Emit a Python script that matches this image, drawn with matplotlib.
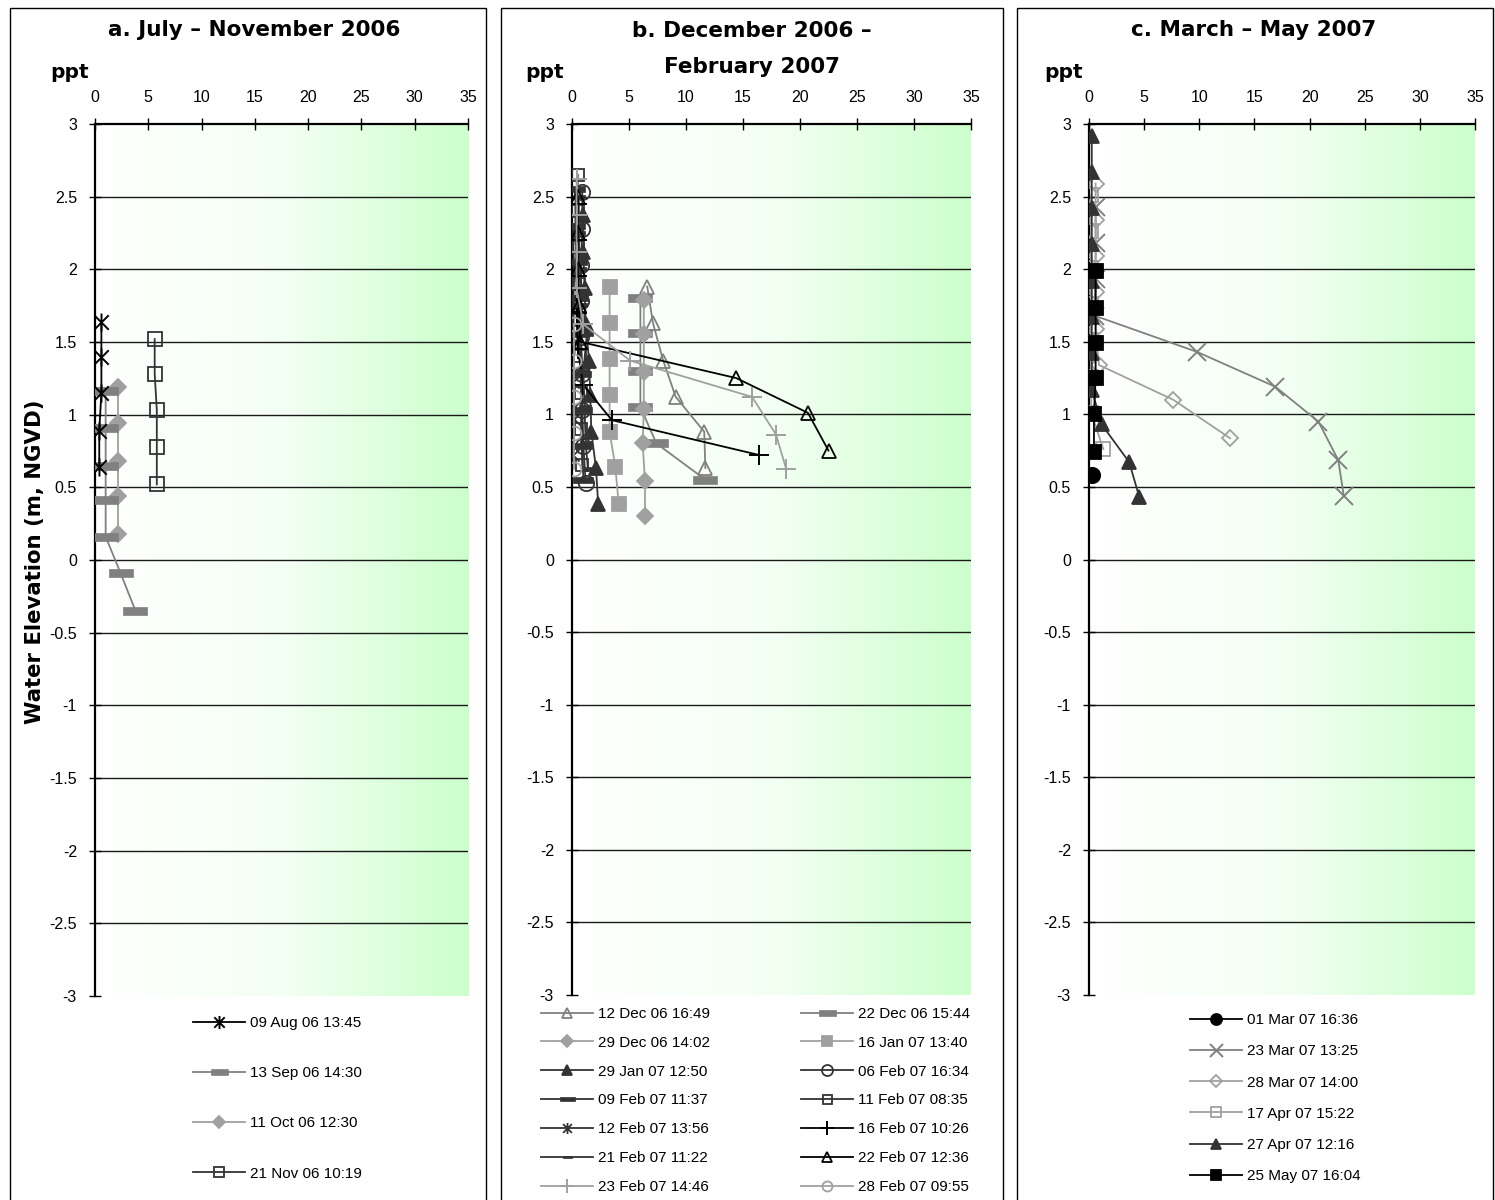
import numpy as np
import matplotlib
matplotlib.use('Agg')
import matplotlib.pyplot as plt
from matplotlib.path import Path
from matplotlib.patches import Rectangle
from matplotlib.colors import LinearSegmentedColormap

# ---------------- data ----------------
x_ticks = [0, 5, 10, 15, 20, 25, 30, 35]
y_ticks = [3, 2.5, 2, 1.5, 1, 0.5, 0, -0.5, -1, -1.5, -2, -2.5, -3]
y_tick_labels = ['3', '2.5', '2', '1.5', '1', '0.5', '0', '-0.5', '-1', '-1.5', '-2', '-2.5', '-3']

titles = ['a. July \u2013 November 2006', 'b. December 2006 \u2013\nFebruary 2007', 'c. March \u2013 May 2007']

# Panel a
a_labels = ['09 Aug 06 13:45', '13 Sep 06 14:30', '11 Oct 06 12:30', '21 Nov 06 10:19']
a_aug_ppt = [0.6, 0.6, 0.6, 0.4, 0.4]
a_aug_elev = [1.64, 1.40, 1.15, 0.89, 0.64]
a_sep_ppt = [1.0, 1.0, 1.0, 1.0, 1.0, 2.4, 3.8]
a_sep_elev = [1.16, 0.91, 0.65, 0.41, 0.16, -0.09, -0.35]
a_oct_ppt = [2.2, 2.2, 2.2, 2.2, 2.2]
a_oct_elev = [1.19, 0.94, 0.68, 0.44, 0.18]
a_nov_ppt = [5.6, 5.6, 5.8, 5.8, 5.8]
a_nov_elev = [1.52, 1.28, 1.03, 0.78, 0.52]

# Panel b
b_labels = ['12 Dec 06 16:49', '22 Dec 06 15:44', '29 Dec 06 14:02', '16 Jan 07 13:40',
            '29 Jan 07 12:50', '06 Feb 07 16:34', '09 Feb 07 11:37', '11 Feb 07 08:35',
            '12 Feb 07 13:56', '16 Feb 07 10:26', '21 Feb 07 11:22', '22 Feb 07 12:36',
            '23 Feb 07 14:46', '28 Feb 07 09:55']
b_12dec_ppt = [6.6, 7.1, 8.0, 9.1, 11.6, 11.7]
b_12dec_elev = [1.88, 1.63, 1.37, 1.12, 0.88, 0.63]
b_22dec_ppt = [6.0, 6.0, 6.0, 6.0, 7.4, 11.7]
b_22dec_elev = [1.80, 1.56, 1.30, 1.05, 0.80, 0.55]
b_29dec_ppt = [6.3, 6.3, 6.3, 6.3, 6.2, 6.4, 6.4]
b_29dec_elev = [1.79, 1.55, 1.29, 1.04, 0.80, 0.54, 0.30]
b_16jan_ppt = [3.3, 3.3, 3.3, 3.3, 3.3, 3.8, 4.1]
b_16jan_elev = [1.88, 1.63, 1.38, 1.13, 0.88, 0.64, 0.38]
b_29jan_ppt = [1.0, 1.0, 1.1, 1.2, 1.5, 1.6, 1.7, 2.1, 2.3]
b_29jan_elev = [2.37, 2.12, 1.87, 1.62, 1.37, 1.13, 0.88, 0.63, 0.38]
b_06feb_ppt = [0.9, 0.9, 0.8, 0.8, 0.8, 0.9, 0.9, 1.0, 1.2]
b_06feb_elev = [2.53, 2.28, 2.03, 1.78, 1.53, 1.28, 1.03, 0.78, 0.53]
b_09feb_ppt = [0.3, 0.3, 0.4, 0.5, 0.6, 0.8, 0.9, 0.9, 1.0]
b_09feb_elev = [2.55, 2.30, 2.05, 1.80, 1.55, 1.28, 1.03, 0.78, 0.55]
b_11feb_ppt = [0.5, 0.5, 0.5, 0.6, 0.6, 0.7, 0.8, 0.8, 0.9]
b_11feb_elev = [2.65, 2.40, 2.15, 1.90, 1.65, 1.40, 1.15, 0.90, 0.65]
b_12feb_ppt = [0.1, 0.2, 0.1, 0.2, 0.1, 0.2, 0.1]
b_12feb_elev = [2.22, 1.97, 1.72, 1.47, 1.22, 0.97, 0.72]
b_16feb_ppt = [0.4, 0.4, 0.4, 0.4, 0.5, 1.0, 3.5, 16.4]
b_16feb_elev = [2.45, 2.20, 1.95, 1.70, 1.45, 1.20, 0.96, 0.72]
b_21feb_ppt = [0.6, 0.6, 0.7, 0.8, 1.3, 1.0, 1.1, 1.2, 1.4]
b_21feb_elev = [2.50, 2.25, 2.00, 1.75, 1.55, 1.30, 1.05, 0.80, 0.62]
b_22feb_ppt = [0.5, 0.5, 0.5, 0.6, 0.7, 14.4, 20.7, 22.5]
b_22feb_elev = [2.50, 2.25, 2.00, 1.75, 1.50, 1.25, 1.01, 0.75]
b_23feb_ppt = [0.4, 0.4, 0.4, 0.4, 1.0, 5.1, 15.8, 17.9, 18.8]
b_23feb_elev = [2.62, 2.37, 2.12, 1.87, 1.62, 1.37, 1.12, 0.86, 0.62]
b_28feb_ppt = [0.2, 0.2, 0.2, 0.2, 0.2]
b_28feb_elev = [1.62, 1.37, 1.12, 0.87, 0.62]

# Panel c
c_labels = ['01 Mar 07 16:36', '23 Mar 07 13:25', '28 Mar 07 14:00',
            '17 Apr 07 15:22', '27 Apr 07 12:16', '25 May 07 16:04']
c_01mar_ppt = [0.25]
c_01mar_elev = [0.58]
c_23mar_ppt = [0.6, 0.6, 0.6, 0.5, 9.8, 16.9, 20.8, 22.6, 23.1]
c_23mar_elev = [2.43, 2.18, 1.93, 1.68, 1.43, 1.19, 0.95, 0.685, 0.44]
c_28mar_ppt = [0.6, 0.6, 0.6, 0.6, 0.6, 0.9, 7.65, 12.8]
c_28mar_elev = [2.59, 2.34, 2.09, 1.84, 1.59, 1.34, 1.10, 0.835]
c_17apr_ppt = [0.2, 0.2, 0.2, 0.2, 0.2, 0.2, 0.2, 1.3]
c_17apr_elev = [2.51, 2.26, 2.01, 1.76, 1.51, 1.26, 1.01, 0.76]
c_27apr_ppt = [0.25, 0.25, 0.25, 0.25, 0.25, 0.25, 0.25, 0.25, 1.15, 3.65, 4.56]
c_27apr_elev = [2.92, 2.67, 2.42, 2.17, 1.92, 1.67, 1.42, 1.17, 0.93, 0.67, 0.43]
c_25may_ppt = [0.6, 0.6, 0.6, 0.6, 0.45, 0.45]
c_25may_elev = [1.99, 1.73, 1.49, 1.25, 1.00, 0.74]

# ---------------- styles ----------------
BLACK, DARK, MID, LIGHT = '#000000', '#333333', '#808080', '#a0a0a0'

ASTER = Path([(-1, -1), (1, 1), (-1, 1), (1, -1), (0, -1.25), (0, 1.25)],
             [Path.MOVETO, Path.LINETO, Path.MOVETO, Path.LINETO, Path.MOVETO, Path.LINETO])
DASH = Path([(-1, -0.3), (1, -0.3), (1, 0.3), (-1, 0.3), (-1, -0.3)],
            [Path.MOVETO, Path.LINETO, Path.LINETO, Path.LINETO, Path.CLOSEPOLY])


def st(color, marker, ms, filled, mew=1.3):
    d = dict(color=color, marker=marker, markersize=ms, markeredgecolor=color,
             markeredgewidth=mew, lw=1.3)
    d['markerfacecolor'] = color if filled else 'none'
    return d


plt.rcParams['font.family'] = ['Liberation Sans', 'DejaVu Sans']

W, H, DPI = 1495, 1200, 100
fig = plt.figure(figsize=(W / DPI, H / DPI), dpi=DPI)

# panel frames
for (x0, x1) in [(10, 486), (501, 1003), (1017, 1493)]:
    fig.patches.append(Rectangle((x0 / W, -0.02), (x1 - x0) / W, (1200 - 8) / H + 0.02,
                                 transform=fig.transFigure, fill=False,
                                 edgecolor='black', lw=1.0))

cmap = LinearSegmentedColormap.from_list('g', ['#ffffff', '#f4fff4', '#ccffcc'])


def make_ax(left, right, top=124, bottom=996):
    ax = fig.add_axes([left / W, (H - bottom) / H, (right - left) / W, (bottom - top) / H])
    grad = np.linspace(0, 1, 256).reshape(1, -1)
    ax.imshow(grad, extent=(0, 35, -3, 3), aspect='auto', cmap=cmap, zorder=0)
    ax.set_xlim(0, 35)
    ax.set_ylim(-3, 3)
    for yv in y_ticks[1:-1]:
        ax.axhline(yv, color='#1a1a1a', lw=1.0, zorder=1)
    ax.spines['right'].set_visible(False)
    ax.spines['bottom'].set_visible(False)
    ax.spines['top'].set_linewidth(1.6)
    ax.spines['left'].set_linewidth(1.6)
    ax.xaxis.tick_top()
    ax.set_xticks(x_ticks)
    ax.set_xticklabels([str(v) for v in x_ticks])
    ax.set_yticks(y_ticks)
    ax.set_yticklabels(y_tick_labels)
    ax.tick_params(axis='x', direction='inout', length=8, width=1, top=True, bottom=False,
                   labeltop=True, labelbottom=False, labelsize=11.5, pad=10)
    ax.tick_params(axis='y', direction='inout', length=8, width=1, labelsize=11.5, pad=9)
    return ax


axa = make_ax(95, 468)
axb = make_ax(572, 971, bottom=995)
axc = make_ax(1089, 1475, bottom=995)

# panel a
la = [
    axa.plot(a_aug_ppt, a_aug_elev, **st(BLACK, ASTER, 13, False, 1.4), zorder=5)[0],
    axa.plot(a_sep_ppt, a_sep_elev, **st(MID, DASH, 17, True, 0.5), zorder=4)[0],
    axa.plot(a_oct_ppt, a_oct_elev, **st(LIGHT, 'D', 8, True), zorder=3)[0],
    axa.plot(a_nov_ppt, a_nov_elev, **st(DARK, 's', 10, False), zorder=3)[0],
]

# panel b
b_series = [
    (b_12dec_ppt, b_12dec_elev, st(MID, '^', 10, False)),
    (b_22dec_ppt, b_22dec_elev, st(MID, DASH, 17, True, 0.5)),
    (b_29dec_ppt, b_29dec_elev, st(LIGHT, 'D', 8, True)),
    (b_16jan_ppt, b_16jan_elev, st(LIGHT, 's', 10, True)),
    (b_29jan_ppt, b_29jan_elev, st(DARK, '^', 10, True)),
    (b_06feb_ppt, b_06feb_elev, st(DARK, 'o', 11, False)),
    (b_09feb_ppt, b_09feb_elev, st(DARK, DASH, 15, True, 0.5)),
    (b_11feb_ppt, b_11feb_elev, st(DARK, 's', 9, False)),
    (b_12feb_ppt, b_12feb_elev, st(DARK, ASTER, 11, False)),
    (b_16feb_ppt, b_16feb_elev, st(BLACK, '+', 14, False, 1.4)),
    (b_21feb_ppt, b_21feb_elev, st(DARK, DASH, 9, True, 0.5)),
    (b_22feb_ppt, b_22feb_elev, st(BLACK, '^', 10, False)),
    (b_23feb_ppt, b_23feb_elev, st(LIGHT, '+', 14, False, 1.4)),
    (b_28feb_ppt, b_28feb_elev, st(LIGHT, 'o', 10, False)),
]
lb = []
for i, (xs, ys, s) in enumerate(b_series):
    lb.append(axb.plot(xs, ys, zorder=3 + i * 0.01, **s)[0])

# panel c
c_series = [
    (c_01mar_ppt, c_01mar_elev, st(BLACK, 'o', 11, True)),
    (c_23mar_ppt, c_23mar_elev, st(MID, 'x', 13, False, 1.4)),
    (c_28mar_ppt, c_28mar_elev, st(LIGHT, 'D', 8, False)),
    (c_17apr_ppt, c_17apr_elev, st(LIGHT, 's', 10, False)),
    (c_27apr_ppt, c_27apr_elev, st(DARK, '^', 10, True)),
    (c_25may_ppt, c_25may_elev, st(BLACK, 's', 10, True)),
]
lc = []
for i, (xs, ys, s) in enumerate(c_series):
    lc.append(axc.plot(xs, ys, zorder=3 + i * 0.01, **s)[0])

# titles and labels
tfont = dict(family='DejaVu Sans', fontweight='bold', fontsize=15.5)
fig.text(254 / W, 1 - 30 / H, titles[0], ha='center', va='center', **tfont)
fig.text(752 / W, 1 - 49 / H, titles[1], ha='center', va='center', linespacing=1.95, **tfont)
fig.text(1254 / W, 1 - 30 / H, titles[2], ha='center', va='center', **tfont)
pfont = dict(family='DejaVu Sans', fontweight='bold', fontsize=14.5)
for xp in (70, 545, 1064):
    fig.text(xp / W, 1 - 72 / H, 'ppt', ha='center', va='center', **pfont)
fig.text(35 / W, 1 - 562 / H, 'Water Elevation (m, NGVD)', rotation=90,
         ha='center', va='center', family='DejaVu Sans', fontweight='bold', fontsize=15.3)

# legends
lkw = dict(frameon=False, fontsize=11, handlelength=3.4, handletextpad=0.35,
           borderpad=0, borderaxespad=0, loc='upper left', markerscale=0.72)
fig.legend(la, a_labels, bbox_to_anchor=(193 / W, 1 - 1016 / H), labelspacing=2.37, **lkw)
fig.legend(lb[0::2], b_labels[0::2], bbox_to_anchor=(541 / W, 1 - 1007 / H), labelspacing=0.97, **lkw)
fig.legend(lb[1::2], b_labels[1::2], bbox_to_anchor=(801 / W, 1 - 1007 / H), labelspacing=0.97, **lkw)
fig.legend(lc, c_labels, bbox_to_anchor=(1190 / W, 1 - 1013 / H), labelspacing=1.13, **lkw)

fig.savefig('out.png', dpi=DPI)
